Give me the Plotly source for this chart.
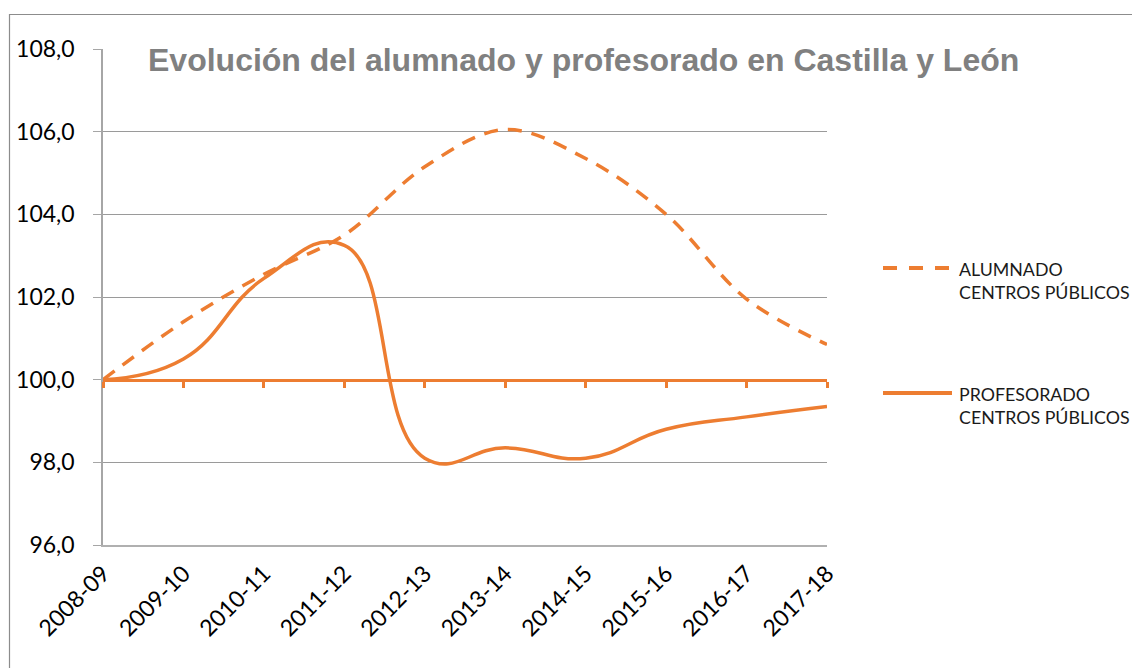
import plotly.graph_objects as go

categories = ["2008-09", "2009-10", "2010-11", "2011-12", "2012-13",
              "2013-14", "2014-15", "2015-16", "2016-17", "2017-18"]
alumnado = [100.0, 101.4, 102.55, 103.5, 105.15, 106.05, 105.35, 104.0, 101.95, 100.85]
profesorado = [100.0, 100.5, 102.45, 103.25, 98.1, 98.35, 98.1, 98.8, 99.1, 99.35]
y_ticks = [96, 98, 100, 102, 104, 106, 108]

title_text = "Evolución del alumnado y profesorado en Castilla y León"
name_alum = "ALUMNADO<br>CENTROS PÚBLICOS"
name_prof = "PROFESORADO<br>CENTROS PÚBLICOS"

ORANGE = "#ED7D31"
GRID = "#9a9a9a"
W, H = 1132, 668
L, R, T, B = 103, 305, 49, 123
pw, ph = W - L - R, H - T - B


def px_x(p):
    return (p - L) / pw


def px_y(p):
    return (H - B - p) / ph


fig = go.Figure()
fig.add_trace(go.Scatter(
    x=categories, y=alumnado, mode="lines", showlegend=False,
    line=dict(color=ORANGE, width=3.5, dash="14px,10px", shape="spline", smoothing=1.0),
    name="ALUMNADO CENTROS PÚBLICOS"))
fig.add_trace(go.Scatter(
    x=categories, y=profesorado, mode="lines", showlegend=False,
    line=dict(color=ORANGE, width=3.5, shape="spline", smoothing=1.3),
    name="PROFESORADO CENTROS PÚBLICOS"))

fig.update_layout(
    width=W, height=H,
    margin=dict(l=L, r=R, t=T, b=B),
    paper_bgcolor="white", plot_bgcolor="white",
    separators=",.",
    font=dict(family="Lato, 'Noto Sans', sans-serif", color="#000000"),
    xaxis=dict(
        type="category", range=[0, len(categories) - 1],
        showgrid=False, zeroline=False,
        showline=True, linecolor="#b0b0b0", linewidth=2,
        ticks="", tickangle=-45, tickfont=dict(size=23, color="#000000"),
        ticklabelstandoff=4,
    ),
    xaxis2=dict(
        overlaying="x", anchor="free", position=(100 - 96) / (108 - 96),
        type="linear", range=[0, len(categories) - 1],
        tickvals=list(range(len(categories))),
        showgrid=False, zeroline=False,
        showline=True, linecolor=ORANGE, linewidth=3,
        ticks="outside", ticklen=6, tickwidth=2.5, tickcolor=ORANGE,
        showticklabels=False,
    ),
    yaxis=dict(
        range=[96, 108], tickvals=y_ticks, tickformat=".1f",
        showgrid=True, gridcolor=GRID, gridwidth=1.3,
        zeroline=False,
        showline=True, linecolor="#a6a6a6", linewidth=1.5,
        ticks="outside", ticklen=8, tickcolor="#a6a6a6", tickwidth=1.3,
        tickfont=dict(size=23, color="#000000"),
        ticklabelstandoff=14,
    ),
)

# invisible trace to activate xaxis2 (the orange axis line at 100)
fig.add_trace(go.Scatter(x=[0], y=[100], xaxis="x2", mode="lines",
                         showlegend=False, hoverinfo="skip",
                         line=dict(width=0)))

shapes = [
    # white box hiding the top gridline behind the title
    dict(type="rect", xref="paper", yref="paper",
         x0=px_x(127), x1=px_x(845), y0=px_y(54), y1=px_y(44),
         fillcolor="white", line=dict(width=0), layer="above"),
    # outer chart border
    dict(type="rect", xref="paper", yref="paper",
         x0=px_x(9.5), x1=px_x(1160), y0=px_y(700), y1=px_y(14.5),
         fillcolor="rgba(0,0,0,0)", line=dict(color="#8c8c8c", width=1.2),
         layer="above"),
    # legend samples
    dict(type="line", xref="paper", yref="paper",
         x0=px_x(883), x1=px_x(952), y0=px_y(268), y1=px_y(268),
         line=dict(color=ORANGE, width=4, dash="14px,12px")),
    dict(type="line", xref="paper", yref="paper",
         x0=px_x(883), x1=px_x(952), y0=px_y(393), y1=px_y(393),
         line=dict(color=ORANGE, width=4)),
]
fig.update_layout(shapes=shapes)

annotations = [
    dict(text=title_text, xref="paper", yref="paper",
         x=px_x(146), y=px_y(60), xanchor="left", yanchor="middle",
         showarrow=False,
         font=dict(family="Liberation Sans, Arial, sans-serif", size=32,
                   color="#808080", weight="bold")),
    dict(text=name_alum, xref="paper", yref="paper",
         x=px_x(957), y=px_y(280), xanchor="left", yanchor="middle",
         align="left", showarrow=False,
         font=dict(size=17.8, color="#1a1a1a")),
    dict(text=name_prof, xref="paper", yref="paper",
         x=px_x(957), y=px_y(405), xanchor="left", yanchor="middle",
         align="left", showarrow=False,
         font=dict(size=17.8, color="#1a1a1a")),
]
fig.update_layout(annotations=annotations)

fig.write_html("out.html", config={"displayModeBar": False},
               post_script="document.body.style.margin='0';")
